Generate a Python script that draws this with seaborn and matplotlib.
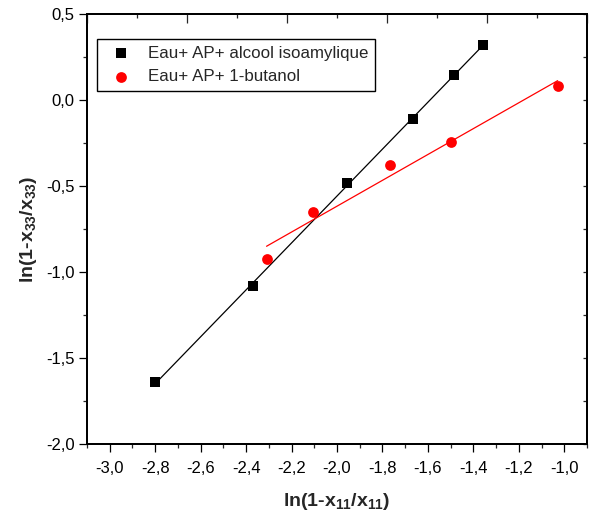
import numpy as np
import pandas as pd
import matplotlib
matplotlib.use("Agg")
import matplotlib.pyplot as plt
from matplotlib.ticker import MultipleLocator, FuncFormatter
import seaborn as sns

# Measured data: ln(1-x11/x11) vs ln(1-x33/x33)
iso_x = [-2.800, -2.370, -1.955, -1.664, -1.486, -1.359]
iso_y = [-1.641, -1.081, -0.481, -0.112, 0.144, 0.320]
but_x = [-2.310, -2.106, -1.768, -1.498, -1.029]
but_y = [-0.924, -0.651, -0.380, -0.244, 0.081]

iso_label = "Eau+ AP+ alcool isoamylique"
but_label = "Eau+ AP+ 1-butanol"

sns.set_style("ticks")
plt.rcParams["font.family"] = ["Liberation Sans", "DejaVu Sans"]
plt.rcParams["mathtext.fontset"] = "custom"
plt.rcParams["mathtext.rm"] = "Liberation Sans"
plt.rcParams["mathtext.bf"] = "Liberation Sans:bold"
plt.rcParams["mathtext.it"] = "Liberation Sans:italic"

iso = pd.DataFrame({"x": iso_x, "y": iso_y})
but = pd.DataFrame({"x": but_x, "y": but_y})

fig = plt.figure(figsize=(5.89, 5.20), dpi=100)
ax = fig.add_axes([87 / 589, 76 / 520, 500 / 589, 430 / 520])

sns.regplot(data=iso, x="x", y="y", ax=ax, ci=None, truncate=True,
            marker="s", color="black", label=iso_label,
            scatter_kws={"s": 46, "linewidths": 0, "alpha": 1, "zorder": 3},
            line_kws={"lw": 0.9, "zorder": 2})
sns.regplot(data=but, x="x", y="y", ax=ax, ci=None, truncate=True,
            marker="o", color="#ff0000", label=but_label,
            scatter_kws={"s": 60, "linewidths": 0, "alpha": 1, "zorder": 3},
            line_kws={"lw": 0.9, "zorder": 2})

ax.set_xlim(-3.1, -0.9)
ax.set_ylim(-2.0, 0.5)

comma = FuncFormatter(lambda v, p: f"{v:.1f}".replace(".", ","))
ax.xaxis.set_major_locator(MultipleLocator(0.2))
ax.xaxis.set_minor_locator(MultipleLocator(0.1))
ax.yaxis.set_major_locator(MultipleLocator(0.5))
ax.yaxis.set_minor_locator(MultipleLocator(0.25))
ax.xaxis.set_major_formatter(comma)
ax.yaxis.set_major_formatter(comma)

ax.tick_params(which="major", direction="out", length=6, width=0.9,
               labelsize=12, colors="black")
ax.tick_params(axis="x", which="major", pad=6)
ax.tick_params(axis="y", which="major", pad=3)
ax.tick_params(which="minor", direction="out", length=3, width=0.9)
for s in ax.spines.values():
    s.set_visible(True)
    s.set_linewidth(1.2)
    s.set_color("black")

ax.set_xlabel(r"ln(1-x$_{\mathbf{11}}$/x$_{\mathbf{11}}$)", fontsize=14,
              fontweight="bold", labelpad=11)
ax.set_ylabel(r"ln(1-x$_{\mathbf{33}}$/x$_{\mathbf{33}}$)", fontsize=14,
              fontweight="bold", labelpad=5)

# Right axis: short inward ticks every 0.25
axr = ax.twinx()
axr.set_ylim(ax.get_ylim())
axr.yaxis.set_major_locator(MultipleLocator(0.25))
axr.tick_params(axis="y", direction="in", length=3, width=0.9, labelright=False)
# Top axis: inward ticks on its own scale
axt = ax.twiny()
axt.set_xlim(0, 5)
axt.xaxis.set_major_locator(MultipleLocator(1))
axt.xaxis.set_minor_locator(MultipleLocator(0.5))
axt.tick_params(axis="x", which="major", direction="in", length=6.5, width=0.9,
                labeltop=False)
axt.tick_params(axis="x", which="minor", direction="in", length=3, width=0.9)
for a in (axr, axt):
    for s in a.spines.values():
        s.set_linewidth(1.2)
        s.set_color("black")

leg = ax.legend(loc="upper left", bbox_to_anchor=(0.02, 0.942), borderaxespad=0,
                fontsize=12.2, frameon=True, fancybox=False, framealpha=1,
                edgecolor="black", handletextpad=0.6, labelspacing=0.5,
                borderpad=0.4)
leg.get_frame().set_linewidth(1.0)

fig.savefig("out.png", dpi=100)
